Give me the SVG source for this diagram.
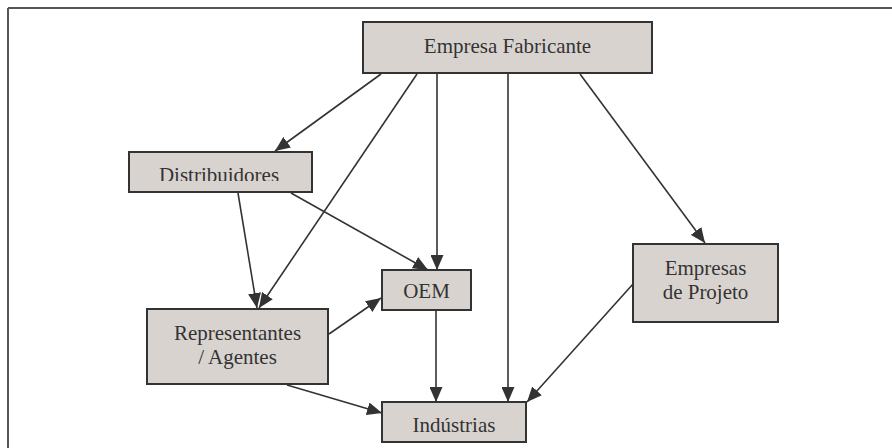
<svg xmlns="http://www.w3.org/2000/svg" width="892" height="448" viewBox="0 0 892 448">
<style>
.box{fill:#d9d3d0;stroke:#333;stroke-width:2}
.t{font-family:'Liberation Serif','Times New Roman',Tinos,'DejaVu Serif',serif;font-size:21px;fill:#333;text-anchor:middle}
.c line{stroke:#333;stroke-width:1.6;marker-end:url(#ah)}
</style>
<defs>
<marker id="ah" markerUnits="userSpaceOnUse" markerWidth="15" markerHeight="13" refX="15" refY="6.5" orient="auto">
<path d="M0,0 L15,6.5 L0,13 z" fill="#333"/>
</marker>
<clipPath id="dclip"><rect x="129" y="152" width="183" height="29"/></clipPath>
</defs>
<rect width="892" height="448" fill="#fff"/>
<g id="frame" stroke="#555" stroke-width="2" fill="none">
<line x1="8" y1="8" x2="892" y2="8"/>
<line x1="8" y1="8" x2="8" y2="448"/>
</g>
<g class="c" id="connectors">
<line x1="381" y1="74" x2="275" y2="151"/>
<line x1="417" y1="74" x2="259" y2="308"/>
<line x1="437" y1="74" x2="437" y2="270"/>
<line x1="508" y1="74" x2="508" y2="402"/>
<line x1="580" y1="74" x2="705" y2="243"/>
<line x1="238" y1="193" x2="257" y2="308"/>
<line x1="291" y1="193" x2="428" y2="270"/>
<line x1="329" y1="334" x2="381" y2="298"/>
<line x1="436" y1="311" x2="436" y2="402"/>
<line x1="287" y1="385" x2="382" y2="413"/>
<line x1="633" y1="284" x2="527" y2="402"/>
</g>
<g id="empresa-fabricante">
<rect class="box" x="363" y="22" width="289" height="51"/>
<text class="t" x="507.5" y="53" font-family="Liberation Serif, serif">Empresa Fabricante</text>
</g>
<g id="distribuidores">
<rect class="box" x="129" y="152" width="183" height="40"/>
<text class="t" x="219" y="182" clip-path="url(#dclip)">Distribuidores</text>
</g>
<g id="representantes">
<rect class="box" x="147" y="309" width="181" height="75"/>
<text class="t" x="237.5" y="340">Representantes</text>
<text class="t" x="237.5" y="364">/ Agentes</text>
</g>
<g id="oem">
<rect class="box" x="382" y="270" width="89" height="40"/>
<text class="t" x="426.5" y="298">OEM</text>
</g>
<g id="empresas-projeto">
<rect class="box" x="633" y="244" width="145" height="78"/>
<text class="t" x="705.5" y="275">Empresas</text>
<text class="t" x="705.5" y="299">de Projeto</text>
</g>
<g id="industrias">
<rect class="box" x="382" y="402" width="144" height="40"/>
<text class="t" x="454" y="432">Indústrias</text>
</g>
</svg>
